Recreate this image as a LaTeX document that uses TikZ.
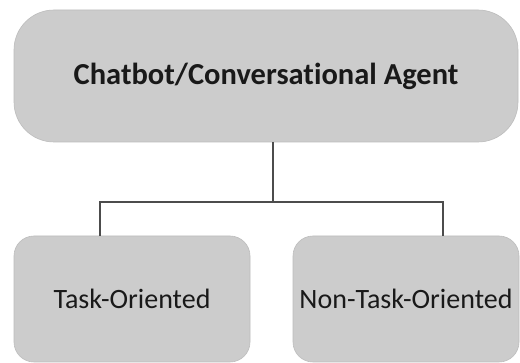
\documentclass[tikz,border=0pt]{standalone}
\usepackage{fontspec}
\setmainfont[RawFeature=-liga]{Carlito}
\begin{document}
\begin{tikzpicture}[x=1pt,y=1pt,
  box/.style={draw=black!26, line width=0.6pt, fill=black!20, inner sep=0pt, align=center, text=black!90},
  link/.style={draw=black!70, line width=2.4pt}]
\useasboundingbox (0,0) rectangle (520,363);
\fill[white] (0,0) rectangle (520,363);
\node[box, rounded corners=40pt, minimum width=504pt, minimum height=132pt,
      font=\fontsize{30.5}{34}\selectfont\bfseries] (agent) at (266,287) {Chatbot/Conversational Agent};
\node[box, rounded corners=20pt, minimum width=236pt, minimum height=126pt,
      font=\fontsize{28}{32}\selectfont] (task) at (132,64) {Task-Oriented};
\node[box, rounded corners=20pt, minimum width=226pt, minimum height=126pt,
      font=\fontsize{28}{32}\selectfont] (nontask) at (406,64) {Non-Task-Oriented};
\coordinate (split) at ([xshift=7pt]agent.south |- 0,161);
\draw[link] ([xshift=7pt]agent.south) -- (split);
\draw[link] ([xshift=-32pt]task.north) |- (split) -| ([xshift=37pt]nontask.north);
\end{tikzpicture}
\end{document}
